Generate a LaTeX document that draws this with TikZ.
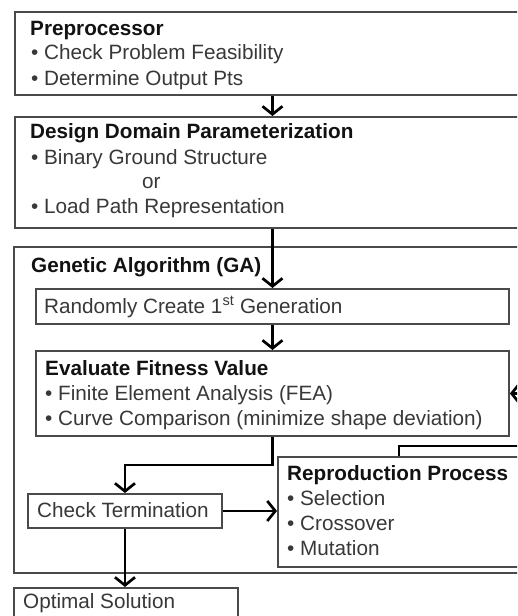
\documentclass[tikz,border=0pt]{standalone}
\usepackage{fontspec}
\setmainfont{Liberation Sans}
\usetikzlibrary{arrows.meta}
\definecolor{boxline}{HTML}{4A4A4A}
\definecolor{bodytext}{HTML}{383838}
\definecolor{titletext}{HTML}{121212}
\begin{document}
\begin{tikzpicture}[x=1pt,y=-1pt,
  box/.style={draw=boxline, line width=1.9pt, inner sep=0pt, anchor=north west},
  txt/.style={anchor=base west, inner sep=0pt, text=bodytext,
              font=\fontsize{20.7}{24}\selectfont},
  ttl/.style={anchor=base west, inner sep=0pt, text=titletext,
              font=\fontsize{20.7}{24}\selectfont\bfseries},
  link/.style={draw=black, line width=2.7pt},
  arr/.style={link, -{Straight Barb[length=8pt,width=20pt]}}]
\useasboundingbox (0,0) rectangle (517,616);
\clip (0,0) rectangle (517,616);
\fill[white] (0,0) rectangle (517,616);

% boxes
\node[box, minimum width=526pt, minimum height=83pt]  (pre)    at (14,11)  {};
\node[box, minimum width=526pt, minimum height=111pt] (design) at (14,116) {};
\node[box, minimum width=527pt, minimum height=326pt] (ga)     at (13,246) {};
\node[box, minimum width=473pt, minimum height=35pt]  (rand)   at (35,288) {};
\node[box, minimum width=473pt, minimum height=85pt]  (eval)   at (35,350) {};
\node[box, minimum width=194pt, minimum height=34pt]  (check)  at (27,493) {};
\node[box, minimum width=263pt, minimum height=110pt] (repro)  at (277,456) {};
\node[box, minimum width=224pt, minimum height=53pt]  (opt)    at (13,587) {};

% preprocessor
\node[ttl] (preT)  at (30,35) {Preprocessor};
\node[txt] (preA)  at (31,59) {• Check Problem Feasibility};
\node[txt] (preB)  at (31,85) {• Determine Output Pts};

% design domain
\node[ttl] (desT)  at (30,138) {Design Domain Parameterization};
\node[txt] (desA)  at (31,164) {• Binary Ground Structure};
\node[txt] (desOr) at (142,188) {or};
\node[txt] (desB)  at (31,213) {• Load Path Representation};

% genetic algorithm
\node[ttl] (gaT)   at (31,272) {Genetic Algorithm (GA)};
\node[txt] (randT) at (44,313) {Randomly Create 1\textsuperscript{st} Generation};
\node[ttl] (evT)   at (45,375) {Evaluate Fitness Value};
\node[txt] (evA)   at (45,400) {• Finite Element Analysis (FEA)};
\node[txt] (evB)   at (45,425) {• Curve Comparison (minimize shape deviation)};
\node[txt] (chkT)  at (37,517) {Check Termination};
\node[ttl] (repT)  at (287,480) {Reproduction Process};
\node[txt] (repA)  at (287,505) {• Selection};
\node[txt] (repB)  at (287,530) {• Crossover};
\node[txt] (repC)  at (287,555) {• Mutation};
\node[txt] (optT)  at (23,608) {Optimal Solution};

% connectors
\coordinate (loopR) at (527,446);
\draw[arr] (pre.south -| rand.north) -- (design.north -| rand.north);
\draw[arr] (design.south -| rand.north) -- (rand.north);
\draw[arr] (rand.south) -- (eval.north);
\draw[arr] (eval.south) -- ++(0,28) -| (check.north);
\draw[arr] (check.east) -- (repro.west |- check.east);
\draw[arr] (check.south) -- (opt.north -| check.south);
\draw[arr] ([xshift=122pt]repro.north west) |- (loopR) |- (eval.east);
\end{tikzpicture}
\end{document}
